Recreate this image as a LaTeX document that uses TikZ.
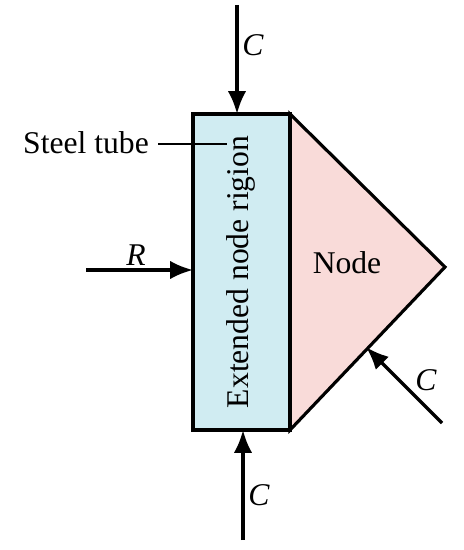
\documentclass[tikz,border=0pt]{standalone}
\usepackage{fontspec}
\setmainfont{Liberation Serif}
\usetikzlibrary{arrows.meta}
\definecolor{tubeblue}{RGB}{208,236,242}
\definecolor{nodepink}{RGB}{249,219,217}
\begin{document}
\begin{tikzpicture}[x=0.02cm, y=-0.02cm, >={Latex[length=13pt,width=10.5pt]},
  force/.style={->, line width=1.9pt},
  lbl/.style={font=\fontsize{18}{20}\selectfont}]
\useasboundingbox (0,0) rectangle (463,550);
% corners of tube and node
\coordinate (tl) at (193,114);
\coordinate (tr) at (290,114);
\coordinate (apex) at (445,267);
\coordinate (br) at (290,430);
\coordinate (bl) at (193,430);
\filldraw[fill=nodepink, line width=1.8pt, line join=miter] (tr)--(apex)--(br)--cycle;
\filldraw[fill=tubeblue, line width=1.8pt] (tl) rectangle (br);
\node[lbl] (node) at (347,263) {Node};
\node[lbl, rotate=90] (ext) at (241,272) {Extended node rigion};
% forces
\coordinate (ctop) at (237,5);
\draw[force] (ctop)--(ctop |- tl);
\node[lbl] (c1) at (253,45) {\textit{C}};
\coordinate (cbot) at (243,540);
\draw[force] (cbot)--(cbot |- bl);
\node[lbl] (c2) at (259,495) {\textit{C}};
\coordinate (rtail) at (86,270);
\draw[force] (rtail)--(rtail -| tl);
\node[lbl] (r) at (136,255) {\textit{R}};
\coordinate (cdiag) at (442,423);
\draw[force] (cdiag)--(366,347);
\node[lbl] (c3) at (426,380) {\textit{C}};
% steel tube
\node[lbl, anchor=east] (st) at (155,143) {Steel tube};
\draw[line width=1.3pt] (158,144)--(227,144);
\end{tikzpicture}
\end{document}
